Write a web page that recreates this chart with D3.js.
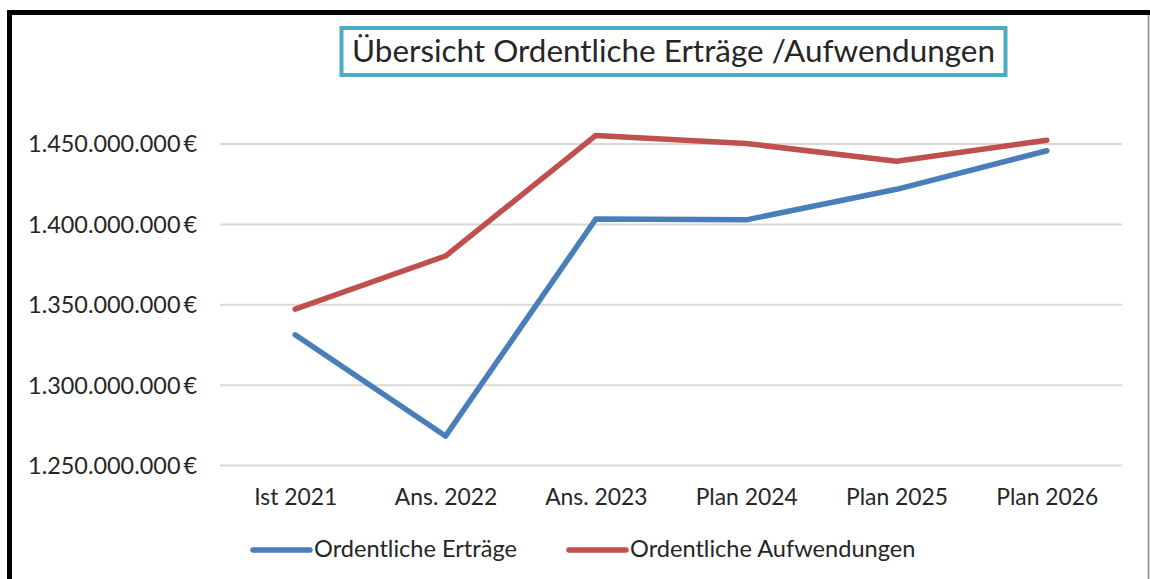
<!DOCTYPE html>
<html><head><meta charset="utf-8">
<script src="https://cdn.jsdelivr.net/npm/d3@7"></script>
<style>
html,body{margin:0;padding:0;background:#fff;}
svg{display:block;}
text{font-family:Lato,"Open Sans",sans-serif;fill:#262626;}
</style></head>
<body>
<svg id="c" width="1150" height="579"></svg>
<script>
const categories = ["Ist 2021","Ans. 2022","Ans. 2023","Plan 2024","Plan 2025","Plan 2026"];
const ertraege = [1331e6, 1268e6, 1403e6, 1402.5e6, 1421.5e6, 1445.5e6];
const aufwendungen = [1347e6, 1380e6, 1455e6, 1450e6, 1439e6, 1452e6];
const yTicks = [1250e6, 1300e6, 1350e6, 1400e6, 1450e6];
const seriesNames = ["Ordentliche Erträge", "Ordentliche Aufwendungen"];
const colors = ["#4a7ebb", "#c0504d"];
const title = "Übersicht Ordentliche Erträge /Aufwendungen";

const svg = d3.select("#c");
const locale = d3.formatLocale({decimal:",", thousands:".", grouping:[3], currency:["","\u2009€"]});
const fmt = locale.format("$,.0f");

// fit font size helper
function fit(sel, target, base){
  sel.style("font-size", base+"px");
  const w = sel.node().getComputedTextLength();
  sel.style("font-size", (base*target/w).toFixed(2)+"px");
  return base*target/w;
}

// frame
svg.append("rect").attr("x",0).attr("y",0).attr("width",1150).attr("height",579).attr("fill","#fff");
svg.append("line").attr("x1",1148.5).attr("x2",1148.5).attr("y1",12).attr("y2",579).attr("stroke","#8c8c8c").attr("stroke-width",1.5);
svg.append("line").attr("x1",9.5).attr("x2",9.5).attr("y1",10).attr("y2",579).attr("stroke","#000").attr("stroke-width",5);
svg.append("line").attr("x1",7).attr("x2",1150).attr("y1",12.5).attr("y2",12.5).attr("stroke","#000").attr("stroke-width",5);

const x = d3.scalePoint().domain(categories).range([220,1122]).padding(0.5);
const y = d3.scaleLinear().domain([1250e6,1450e6]).range([465,143.5]);

// y axis with gridlines
const yAxis = svg.append("g").attr("transform","translate(220,0)")
  .call(d3.axisLeft(y).tickValues(yTicks).tickSize(-902).tickPadding(23).tickFormat(fmt));
yAxis.select(".domain").remove();
yAxis.selectAll(".tick line").attr("stroke","#d9d9d9").attr("stroke-width",2);
const yt = yAxis.selectAll(".tick text").attr("fill","#262626").attr("dy","0.36em").style("font-family","Lato,sans-serif");
const ySize = fit(yAxis.select(".tick:last-of-type text"), 169, 22);
yt.style("font-size", ySize.toFixed(2)+"px");

// x axis labels
const xAxis = svg.append("g").attr("transform","translate(0,465)")
  .call(d3.axisBottom(x).tickSize(0).tickPadding(0));
xAxis.select(".domain").remove();
const xt = xAxis.selectAll(".tick text").attr("fill","#262626").attr("dy",null).attr("y",40).style("font-family","Lato,sans-serif");
const xSize = fit(xAxis.select(".tick:last-of-type text"), 102, 22);
xt.style("font-size", xSize.toFixed(2)+"px");

// lines
const line = d3.line().x((d,i)=>x(categories[i])).y(d=>y(d));
[ertraege, aufwendungen].forEach((s,k)=>{
  svg.append("path").datum(s).attr("d",line).attr("fill","none")
    .attr("stroke",colors[k]).attr("stroke-width",5.5)
    .attr("stroke-linejoin","round").attr("stroke-linecap","round");
});

// legend
const legendX = [253, 569];
const lg = svg.append("g");
seriesNames.forEach((n,k)=>{
  lg.append("line").attr("x1",legendX[k]).attr("x2",legendX[k]+57).attr("y1",550).attr("y2",550)
    .attr("stroke",colors[k]).attr("stroke-width",5.5).attr("stroke-linecap","round");
  lg.append("text").attr("class","lt").attr("x",legendX[k]+61).attr("y",557).text(n);
});
const lSize = fit(lg.select(".lt"), 203, 22);
lg.selectAll(".lt").style("font-size", lSize.toFixed(2)+"px");

// title box
svg.append("rect").attr("x",341.5).attr("y",28).attr("width",664).attr("height",47)
  .attr("fill","#fff").attr("stroke","#4bacc6").attr("stroke-width",4);
const tt = svg.append("text").attr("x",673.5).attr("y",62).attr("text-anchor","middle").text(title);
fit(tt, 643, 28);
</script>
</body></html>
